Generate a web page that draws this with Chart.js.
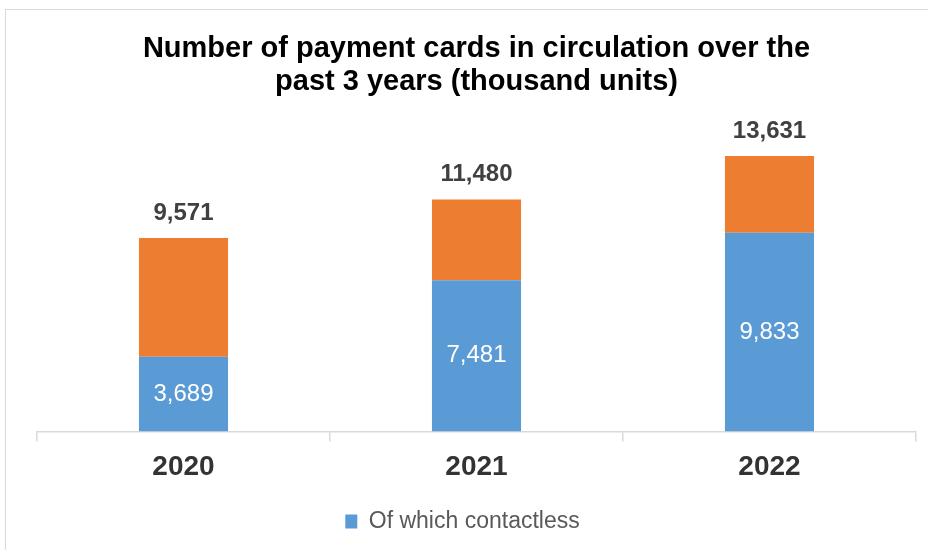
<!DOCTYPE html>
<html>
<head>
<meta charset="utf-8">
<script src="https://cdn.jsdelivr.net/npm/chart.js@4.4.0/dist/chart.umd.min.js"></script>
<style>
  body { margin: 0; background: #fff; }
  #wrap { position: relative; width: 928px; height: 550px; overflow: hidden; }
  #frame { position: absolute; left: 5px; top: 9px; width: 940px; height: 560px;
           border: 1px solid #d9d9d9; pointer-events: none; }
</style>
</head>
<body>
<div id="wrap">
  <canvas id="myChart" width="928" height="550"></canvas>
  <div id="frame"></div>
</div>
<script>
// datos del grafico
const years = ["2020", "2021", "2022"];
const totals = [9571, 11480, 13631];
const contactless = [3689, 7481, 9833];
const otherCards = [5882, 3999, 3798];

const fmt = (v) => v.toLocaleString("en-US");

// plugin para dibujar las etiquetas de valores
const valueLabels = {
  id: "valueLabels",
  afterLayout(chart) {
    // la leyenda esta un poco a la izquierda en el original
    chart.legend.left -= 14;
    chart.legend.right -= 14;
  },
  afterDatasetsDraw(chart) {
    const ctx = chart.ctx;
    const blue = chart.getDatasetMeta(0);
    const top = chart.getDatasetMeta(1);
    ctx.save();
    ctx.textAlign = "center";
    ctx.textBaseline = "middle";
    blue.data.forEach((bar, i) => {
      ctx.fillStyle = "#ffffff";
      ctx.font = "24px 'Liberation Sans', Arial, sans-serif";
      ctx.fillText(fmt(contactless[i]), bar.x, (bar.y + bar.base) / 2);
    });
    top.data.forEach((bar, i) => {
      ctx.fillStyle = "#404040";
      ctx.font = "bold 24px 'Liberation Sans', Arial, sans-serif";
      ctx.fillText(fmt(totals[i]), bar.x, bar.y - 25);
    });
    ctx.restore();
  }
};

const config = {
  type: "bar",
  data: {
    labels: years,
    datasets: [
      {
        label: "Of which contactless",
        data: contactless,
        backgroundColor: "#5B9BD5",
        barPercentage: 0.304,
        categoryPercentage: 1
      },
      {
        label: "Other",
        data: otherCards,
        backgroundColor: "#ED7D31",
        barPercentage: 0.304,
        categoryPercentage: 1
      }
    ]
  },
  options: {
    responsive: false,
    animation: false,
    layout: { padding: { left: 37, right: 12, top: 14, bottom: 7 } },
    plugins: {
      title: {
        display: true,
        text: ["Number of payment cards in circulation over the", "past 3 years (thousand units)"],
        color: "#000000",
        font: { family: "'Liberation Sans', Arial, sans-serif", size: 29, weight: "bold", lineHeight: 1.14 },
        padding: { top: 18, bottom: 10 }
      },
      legend: {
        position: "bottom",
        labels: {
          filter: (item) => item.datasetIndex === 0,
          boxWidth: 12,
          boxHeight: 14,
          padding: 17,
          color: "#595959",
          font: { family: "'Liberation Sans', Arial, sans-serif", size: 23 }
        }
      },
      tooltip: { enabled: false }
    },
    scales: {
      x: {
        stacked: true,
        grid: {
          offset: true,
          drawOnChartArea: false,
          drawTicks: true,
          tickLength: 10,
          color: "#d9d9d9",
          lineWidth: 1.5
        },
        border: { color: "#d9d9d9", width: 1.5 },
        ticks: {
          color: "#333333",
          padding: 9,
          font: { family: "'Liberation Sans', Arial, sans-serif", size: 28, weight: "bold" }
        }
      },
      y: {
        stacked: true,
        display: false,
        min: 0,
        max: 16000
      }
    }
  },
  plugins: [valueLabels]
};

const myChart = document.getElementById("myChart");
new Chart(myChart, config);
</script>
</body>
</html>
